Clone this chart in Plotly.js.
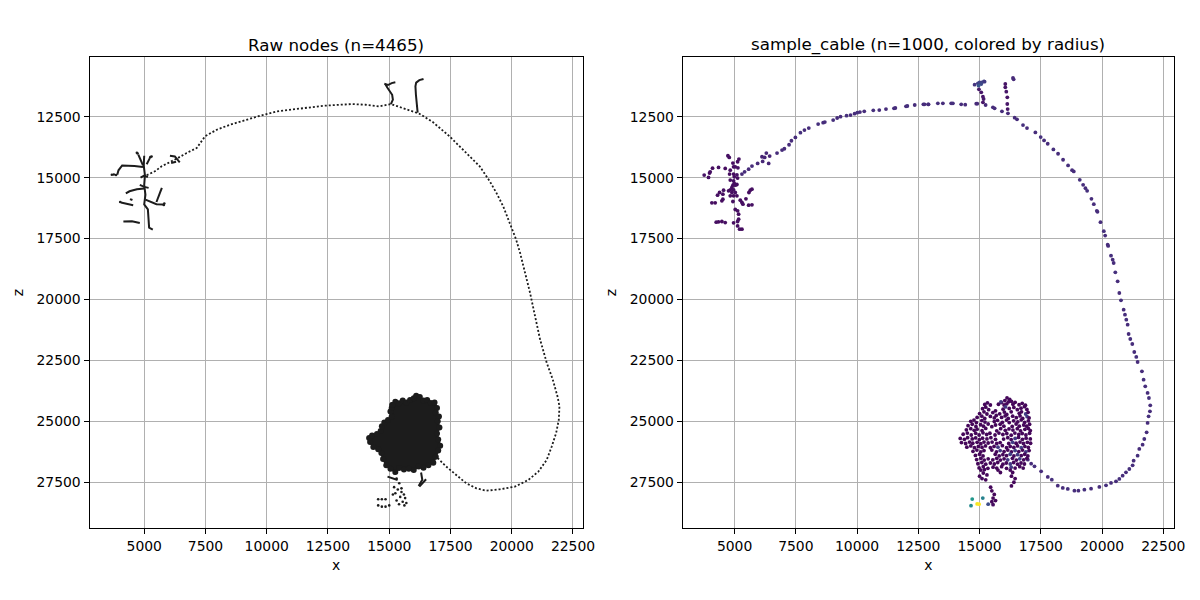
<!DOCTYPE html>
<html>
<head>
<meta charset="utf-8">
<script src="https://cdn.plot.ly/plotly-3.0.1.min.js"></script>
<style>
  html, body { margin: 0; padding: 0; background: #fff; }
  #chart { width: 1200px; height: 600px; }
</style>
</head>
<body>
<div id="chart"></div>
<script>
// ---------- Raw skeleton nodes (x, z) ----------
// Long axon running from the small arbor to the dense terminal arbor
const axonX = [5100, 5437, 5710, 6051, 6400, 6733, 7142, 7483, 7960, 8506, 9051, 9733, 10416, 11234, 12325, 13007,
  13495, 14042, 14589, 15068, 15547, 16231, 16778, 17462, 18146, 18693, 19104, 19377, 19651, 19924, 20171, 20335,
  20540, 20745, 20950, 21156, 21429, 21675, 21867, 21949, 21922, 21812, 21634, 21429, 21087, 20677, 20129, 19514,
  18967, 18556, 18146, 17736, 17325, 16983];
const axonZ = [14900, 14741, 14536, 14372, 14180, 13989, 13785, 13306, 13033, 12828, 12651, 12459, 12282, 12173, 12050, 12009,
  11981, 12009, 12077, 11981, 12145, 12378, 12719, 13306, 13989, 14536, 15151, 15629, 16175, 16858, 17513, 18063,
  18887, 19711, 20673, 21635, 22597, 23284, 23971, 24383, 24933, 25482, 26032, 26581, 27062, 27406, 27680, 27790,
  27845, 27749, 27543, 27200, 26856, 26513];

// Densely sampled branches (nodes merge into solid strokes)
const branchX = [
  [5000, 4980, 5030, 5000, 5050, 5000, 5150, 5180, 5200, 5350],
  [4950, 4600, 4100, 3950, 3900],
  [4760, 4850, 4950],
  [5230, 5100],
  [5000, 4700, 4400, 4250],
  [4050, 4300, 4550],
  [4420, 4520],
  [5050, 5300, 5500, 5780],
  [5500, 5650, 5720],
  [4150, 4500, 4820],
  [4820, 5000, 5180],
  [4850, 5000, 5150],
  [6050, 6250, 6450],
  [6100, 6300],
  [15068, 15150, 15120, 15020, 14920, 14850],
  [14800, 14950, 15100, 15250],
  [16160, 16120, 16090, 16070, 16100, 16230, 16400],
  [14931, 15150, 15342],
  [16300, 16350, 16200],
  [16231, 16504]
];
const branchZ = [
  [14100, 14500, 14900, 15300, 15700, 16100, 16300, 16700, 17050, 17130],
  [14560, 14520, 14500, 14700, 14880],
  [14060, 14250, 14500],
  [14200, 14450],
  [15450, 15480, 15560, 15650],
  [16020, 16080, 16130],
  [15880, 15920],
  [15900, 16000, 16090, 16100],
  [16000, 15600, 15420],
  [16800, 16790, 16860],
  [15300, 15380, 15420],
  [15000, 14920, 14980],
  [14100, 14130, 14370],
  [14400, 14350],
  [11981, 11800, 11600, 11420, 11300, 11180],
  [11150, 11200, 11120, 11090],
  [12330, 12000, 11600, 11250, 11100, 11000, 10950],
  [27268, 27330, 27406],
  [27100, 27400, 27650],
  [27680, 27378]
];
// Isolated raw nodes at the tips of the small arbor
const tipX = [3680, 3760, 3850, 4730, 4700, 5250, 5300, 4020, 5800, 5820];
const tipZ = [14880, 14870, 14890, 14010, 13980, 14160, 14130, 16000, 16120, 16060];

// Outline of the dense terminal arbor
const arborOutlineX = [15130, 15250, 15400, 15550, 15700, 15850, 16000, 16100, 16250, 16400, 16550, 16700, 16850,
  16950, 16900, 17030, 16980, 17050, 16950, 17000, 17080, 17000, 16900, 16800, 16600, 16400, 16200, 16000, 15800,
  15600, 15400, 15250, 15050, 14880, 14750, 14680, 14550, 14350, 14220, 14180, 14300, 14500, 14650, 14700, 14800,
  14950, 15100, 15050, 15100, 15130];
const arborOutlineZ = [24330, 24200, 24260, 24150, 24230, 24120, 24050, 23950, 24000, 24150, 24120, 24250, 24230,
  24450, 24650, 24800, 25000, 25250, 25500, 25750, 26000, 26200, 26450, 26700, 26800, 26900, 26850, 27000, 26950,
  26980, 26920, 27080, 26950, 26800, 26550, 26300, 26150, 26050, 25850, 25680, 25580, 25520, 25400, 25200, 25050,
  24950, 24800, 24600, 24450, 24330];

// Scattered nodes below the terminal arbor
const tailX = [15205, 15300, 15410, 15200, 15350, 15500, 15600, 15450, 15650, 15550, 15700, 15400, 15300, 15150, 15250,
  14550, 14700, 14850, 14550, 14700, 14850, 15000, 15500, 15620];
const tailZ = [27131, 27350, 27543, 27700, 27800, 27900, 28000, 28100, 28150, 28300, 28350, 28400, 28250, 28000, 27950,
  28200, 28200, 28200, 28450, 28500, 28500, 28450, 27750, 28450];

// ---------- sample_cable: [x, z, radius] ----------
const sampleArbor = [
  [4727, 14103, 45], [4782, 14171, 45], [4932, 14404, 40], [5177, 14240, 45], [5123, 14349, 40], [4959, 14555, 40],
  [5136, 14596, 45], [4823, 14692, 40], [5027, 14555, 45], [4618, 14623, 40], [4345, 14582, 45], [4100, 14610, 40],
  [4004, 14760, 45], [3977, 14815, 40], [3759, 14897, 50], [3936, 14993, 45], [4795, 14856, 40], [4959, 14856, 40],
  [5095, 14883, 45], [4986, 14966, 40], [5123, 15020, 40], [4959, 15130, 45], [4823, 15102, 40], [4932, 15308, 40],
  [5027, 15308, 45], [5095, 15281, 40], [4891, 15404, 40], [4823, 15500, 40], [4959, 15500, 45], [4754, 15541, 40],
  [4891, 15610, 40], [5027, 15610, 45], [4959, 15747, 40], [4823, 15747, 40], [5095, 15747, 40], [4550, 15514, 45],
  [4386, 15610, 40], [4523, 15678, 40], [4304, 15719, 45], [4523, 15884, 40], [4482, 15952, 40], [4932, 15979, 45],
  [5232, 15925, 40], [5300, 16021, 40], [5341, 16089, 45], [5464, 15870, 40], [5573, 16130, 40], [5709, 16116, 45],
  [5586, 15610, 40], [5709, 15473, 45], [5641, 15514, 40], [4072, 16034, 45], [4209, 16034, 40], [5027, 16308, 40],
  [5123, 16363, 45], [5164, 16500, 40], [5164, 16706, 40], [5123, 16801, 45], [4959, 16856, 40], [5123, 16980, 40],
  [5205, 17117, 45], [5300, 17117, 40], [4250, 16829, 45], [4345, 16815, 40], [4482, 16801, 40], [4618, 16843, 45],
  [4986, 15240, 40]
];
const samplePath = [
  [5300, 14856, 90], [5409, 14760, 95], [5573, 14651, 90], [5709, 14527, 95], [5941, 14418, 90], [6118, 14144, 80],
  [6228, 14171, 80], [6296, 13993, 85], [6432, 14116, 80], [6391, 14418, 80], [6146, 14335, 85], [6732, 13993, 95],
  [6937, 13870, 95], [7032, 13815, 90], [7223, 13650, 95], [7319, 13486, 95], [7482, 13349, 95], [7687, 13157, 100],
  [7851, 13048, 95], [8028, 12965, 95], [8410, 12801, 100], [8614, 12746, 95], [8683, 12719, 95], [9024, 12637, 100],
  [9187, 12554, 95], [9324, 12500, 95], [9569, 12458, 100], [9733, 12431, 95], [9897, 12376, 95], [10006, 12335, 100],
  [10115, 12308, 95], [10292, 12280, 95], [10661, 12239, 100], [10906, 12226, 95], [11179, 12185, 95], [11506, 12157, 100],
  [11561, 12143, 95], [11997, 12075, 95], [12052, 12061, 100], [12352, 12020, 95], [12706, 11993, 95], [12897, 11993, 100],
  [12751, 11993, 95], [12915, 11993, 95], [13296, 11952, 100], [13501, 11952, 95], [13841, 11952, 95], [13910, 11952, 100],
  [14250, 11993, 95], [14414, 12006, 95], [14864, 11965, 90], [14905, 11965, 90],
  [15245, 12020, 90], [15545, 12116, 95], [15613, 12157, 95], [15913, 12280, 95], [16158, 12363, 90], [16431, 12541, 95],
  [16527, 12609, 95], [16772, 12842, 100], [16935, 12965, 95], [17276, 13144, 95], [17494, 13335, 100], [17631, 13472, 95],
  [17780, 13609, 95], [18012, 13842, 100], [18203, 14020, 95], [18407, 14267, 95], [18612, 14500, 100], [18775, 14692, 95],
  [18844, 14746, 95], [19089, 15089, 100], [19225, 15294, 95], [19321, 15431, 95], [19389, 15541, 100], [19566, 15870, 95],
  [19662, 16089, 95], [19784, 16363, 100], [19811, 16404, 95], [19934, 16829, 95], [20071, 17199, 100], [20125, 17377, 95],
  [20248, 17802, 95], [20228, 17750, 95], [20364, 18202, 100], [20432, 18366, 95], [20472, 18502, 95], [20540, 18885, 100],
  [20635, 19255, 95], [20703, 19733, 95], [20771, 20033, 100], [20880, 20417, 95], [20934, 20622, 95], [20988, 20827, 100],
  [21043, 21033, 95], [21083, 21416, 95], [21151, 21621, 100], [21233, 21826, 95], [21314, 22154, 95], [21396, 22359, 100],
  [21450, 22565, 95], [21626, 22947, 95], [21694, 23289, 100], [21762, 23563, 95], [21857, 23836, 95], [21912, 24042, 100],
  [21966, 24343, 95], [21953, 24589, 95], [21898, 24794, 100], [21857, 25067, 95], [21817, 25450, 95], [21722, 25724, 100],
  [21654, 25957, 95], [21518, 26134, 95], [21450, 26408, 100], [21287, 26613, 95], [21246, 26804, 95], [21111, 26955, 100],
  [20975, 27092, 95], [20839, 27228, 95], [20703, 27365, 100], [20567, 27461, 95], [20364, 27529, 95], [20160, 27625, 100],
  [19888, 27693, 95], [19549, 27762, 95], [19277, 27803, 100], [19033, 27844, 95], [18870, 27844, 95], [18599, 27775, 100],
  [18395, 27734, 95], [18191, 27639, 95], [17947, 27393, 100], [17784, 27283, 95], [17512, 27050, 95], [17241, 26845, 100],
  [17105, 26736, 95], [16969, 26572, 95]
];
const sampleBranches = [
  [14796, 11184, 110], [14932, 11130, 130], [15000, 11089, 140], [15095, 11089, 130], [15177, 11047, 140],
  [15204, 11061, 120], [15068, 11157, 150], [14959, 11226, 180], [14973, 11376, 60], [15068, 11500, 55],
  [15136, 11678, 55], [15164, 11774, 60], [15136, 11911, 55],
  [16363, 10910, 90], [16390, 10965, 90], [16049, 11157, 50], [16049, 11294, 50], [16090, 11472, 55],
  [16131, 11705, 50], [16131, 11979, 55], [16145, 12185, 50]
];
const sampleTerminal = [
  [16120, 24040, 30], [16230, 24100, 30], [16180, 24200, 35], [16030, 24150, 30], [15890, 24230, 30], [16300, 24180, 30],
  [15210, 24310, 30], [15320, 24240, 35], [15440, 24330, 30], [15770, 24300, 30], [15870, 24200, 120],
  [16000, 24330, 30], [16110, 24280, 30], [16360, 24300, 35], [16450, 24220, 30], [16610, 24320, 30], [16740, 24260, 30],
  [16870, 24340, 30],
  [15120, 24480, 30], [15250, 24420, 30], [15370, 24520, 35], [15960, 24500, 30], [16060, 24410, 120],
  [16210, 24470, 30], [16400, 24430, 30], [16540, 24520, 35], [16690, 24460, 30], [16830, 24400, 30], [16930, 24510, 30],
  [15000, 24680, 30], [15180, 24610, 30], [15300, 24700, 30], [15540, 24640, 35], [15650, 24570, 30], [15820, 24690, 30],
  [16010, 24620, 30], [16110, 24720, 30], [16290, 24610, 30], [16620, 24670, 30], [16710, 24610, 30],
  [16880, 24700, 130], [16980, 24630, 30],
  [14900, 24840, 30], [15090, 24790, 35], [15210, 24880, 30], [15440, 24800, 30], [15600, 24860, 30], [15680, 24760, 30],
  [15900, 24840, 30], [16040, 24780, 30], [16170, 24880, 35], [16350, 24790, 30], [16500, 24850, 30], [16650, 24780, 30],
  [16760, 24880, 30], [16940, 24810, 120], [17020, 24860, 30],
  [14640, 25000, 30], [14770, 24950, 30], [14870, 25050, 30], [15090, 24970, 30], [15220, 25030, 35],
  [15600, 25010, 30], [15730, 24960, 30], [15930, 25040, 30], [16100, 24950, 30], [16210, 25050, 30], [16390, 24980, 30],
  [16560, 25020, 35], [16700, 24940, 30], [16840, 25040, 30], [16990, 24980, 30],
  [14530, 25180, 30], [14700, 25120, 30], [14850, 25210, 30], [15040, 25140, 30], [15160, 25200, 30], [15350, 25110, 35],
  [15500, 25220, 30], [15650, 25150, 30], [15840, 25120, 30], [15990, 25200, 30], [16330, 25210, 30],
  [16490, 25110, 30], [16620, 25200, 30], [16800, 25150, 35], [16920, 25200, 30], [17040, 25120, 30],
  [14460, 25350, 30], [14640, 25300, 30], [14780, 25370, 30], [14900, 25320, 35], [15100, 25380, 30], [15250, 25290, 30],
  [15700, 25390, 30], [15860, 25300, 30], [16050, 25370, 30], [16200, 25310, 30],
  [16360, 25360, 35], [16540, 25300, 30], [16670, 25390, 30], [16850, 25330, 30], [16990, 25290, 30], [17070, 25380, 30],
  [14330, 25530, 30], [14500, 25480, 30], [14660, 25560, 30], [14840, 25490, 30], [14980, 25560, 30], [15140, 25470, 35],
  [15290, 25540, 30], [15420, 25490, 30], [15630, 25560, 30], [15790, 25480, 30], [15950, 25540, 30], [16110, 25500, 30],
  [16290, 25570, 30], [16440, 25480, 35], [16600, 25540, 30], [16740, 25500, 30], [16890, 25560, 30], [17040, 25490, 30],
  [14210, 25700, 30], [14380, 25740, 30], [14510, 25670, 30], [14700, 25720, 30], [14840, 25680, 30], [14990, 25750, 30],
  [15120, 25690, 30], [15300, 25720, 35], [15460, 25670, 30], [15650, 25740, 30], [15980, 25730, 30],
  [16150, 25670, 30], [16290, 25750, 30], [16450, 25700, 120], [16590, 25660, 35], [16750, 25740, 30], [16900, 25690, 30],
  [17070, 25720, 30],
  [14260, 25870, 30], [14430, 25910, 30], [14590, 25850, 30], [14720, 25900, 30], [14900, 25860, 30], [15050, 25920, 30],
  [15180, 25850, 30], [15350, 25890, 30], [15510, 25850, 35], [15700, 25910, 30], [15840, 25870, 30],
  [16190, 25910, 30], [16350, 25860, 130], [16490, 25900, 30], [16650, 25850, 30], [16790, 25910, 35], [16950, 25860, 30],
  [17080, 25900, 30],
  [14480, 26060, 30], [14640, 26010, 30], [14790, 26080, 30], [14950, 26030, 30], [15100, 26070, 30], [15240, 26010, 30],
  [15440, 26080, 30], [15590, 26030, 30], [15750, 26060, 120], [15930, 26000, 30], [16100, 26080, 30], [16250, 26030, 30],
  [16400, 26070, 30], [16550, 26010, 30], [16700, 26080, 130], [16850, 26030, 30], [16990, 26070, 30],
  [14730, 26230, 30], [14890, 26180, 30], [15050, 26250, 30], [15180, 26200, 30], [15500, 26180, 30],
  [15690, 26250, 30], [15840, 26200, 120], [16000, 26240, 30], [16150, 26180, 30], [16300, 26250, 30], [16450, 26200, 130],
  [16600, 26240, 30], [16750, 26180, 30], [16890, 26250, 120], [17020, 26200, 30],
  [14830, 26400, 30], [15000, 26350, 30], [15140, 26420, 30], [15640, 26350, 30],
  [15800, 26420, 30], [15950, 26370, 30], [16100, 26410, 30], [16250, 26350, 130], [16400, 26420, 30], [16550, 26370, 120],
  [16700, 26410, 30], [16840, 26350, 30], [16970, 26420, 30],
  [14880, 26570, 30], [15050, 26520, 30], [15190, 26590, 30], [15350, 26540, 30], [15540, 26580, 30], [15700, 26520, 30],
  [15850, 26590, 30], [16000, 26540, 30], [16150, 26580, 120], [16340, 26520, 30], [16500, 26590, 30], [16640, 26540, 130],
  [16800, 26580, 30], [16930, 26520, 30],
  [14930, 26740, 30], [15090, 26690, 30], [15250, 26760, 30], [15440, 26710, 30], [15600, 26750, 30], [15740, 26690, 30],
  [15950, 26760, 30], [16090, 26710, 30], [16250, 26750, 120], [16390, 26690, 30], [16550, 26760, 30], [16690, 26710, 30],
  [16830, 26750, 30],
  [14980, 26910, 30], [15150, 26860, 30], [15340, 26930, 30], [15550, 26880, 30], [15700, 26920, 30], [15900, 26860, 30],
  [16100, 26930, 30], [16290, 26880, 120], [16450, 26920, 30], [16640, 26860, 30], [16780, 26920, 30]
];
const sampleTail = [
  [15050, 27000, 30], [15200, 26980, 30], [15150, 27120, 30], [15300, 27200, 30], [15000, 27250, 30], [15100, 27350, 35],
  [15250, 27400, 30], [15750, 27000, 30], [15850, 27100, 30], [16250, 27000, 30], [16350, 27100, 30], [16300, 27250, 30],
  [16450, 27350, 35], [16400, 27500, 30], [16300, 27650, 30], [15450, 27700, 30], [15500, 27850, 30], [15600, 28000, 30],
  [15550, 28150, 30], [15650, 28250, 30], [15500, 28300, 30], [15350, 28400, 160], [15550, 28420, 40],
  [14700, 28190, 330], [14650, 28460, 300], [15130, 28150, 280], [14900, 28390, 600], [14980, 28400, 610]
];

const TITLE_LEFT = 'Raw nodes (n=4465)';
const TITLE_RIGHT = 'sample_cable (n=1000, colored by radius)';

// ---------- helpers ----------
function joinSegments(xs, zs) {
  const x = [], z = [];
  xs.forEach((seg, i) => {
    x.push(...seg, null);
    z.push(...zs[i], null);
  });
  return { x, z };
}

const FONT = 'DejaVu Sans, Liberation Sans, sans-serif';
const INK = '#1c1c1c';
const branches = joinSegments(branchX, branchZ);
const sampleAll = [].concat(sampleArbor, samplePath, sampleBranches, sampleTerminal, sampleTail);

const traces = [
  { // axon: closely spaced raw nodes
    type: 'scatter', mode: 'lines', x: axonX, y: axonZ, xaxis: 'x', yaxis: 'y',
    line: { color: INK, width: 1.8, dash: '2px,2px' }, hoverinfo: 'skip', showlegend: false
  },
  { // dense branches
    type: 'scatter', mode: 'lines', x: branches.x, y: branches.z, xaxis: 'x', yaxis: 'y',
    line: { color: INK, width: 2 }, connectgaps: false, hoverinfo: 'skip', showlegend: false
  },
  { // isolated tip nodes
    type: 'scatter', mode: 'markers', x: tipX, y: tipZ, xaxis: 'x', yaxis: 'y',
    marker: { color: INK, size: 2.6 }, hoverinfo: 'skip', showlegend: false
  },
  { // terminal arbor mass
    type: 'scatter', mode: 'lines+markers', x: arborOutlineX, y: arborOutlineZ, xaxis: 'x', yaxis: 'y',
    fill: 'toself', fillcolor: INK, line: { color: INK, width: 2 },
    marker: { color: INK, size: 6 }, hoverinfo: 'skip', showlegend: false
  },
  { // scattered nodes below the arbor
    type: 'scatter', mode: 'markers', x: tailX, y: tailZ, xaxis: 'x', yaxis: 'y',
    marker: { color: INK, size: 2.6 }, hoverinfo: 'skip', showlegend: false
  },
  { // resampled cable coloured by radius
    type: 'scatter', mode: 'markers',
    x: sampleAll.map(p => p[0]), y: sampleAll.map(p => p[1]), xaxis: 'x2', yaxis: 'y2',
    marker: {
      size: 3.8, color: sampleAll.map(p => p[2]), colorscale: 'Viridis', cmin: 20, cmax: 610,
      showscale: false, line: { width: 0 }
    },
    showlegend: false
  }
];

function axisStyle(extra) {
  return Object.assign({
    showgrid: true, gridcolor: '#b0b0b0', gridwidth: 1,
    showline: true, mirror: true, linecolor: '#000', linewidth: 1,
    ticks: 'outside', ticklen: 5, tickwidth: 1, tickcolor: '#000',
    tickfont: { family: FONT, size: 13.9, color: '#000' },
    tickformat: 'd', separatethousands: false,
    zeroline: false, dtick: 2500, tick0: 0, autorange: false, fixedrange: true
  }, extra);
}

const yDomain = [1 - 528 / 600, 1 - 57 / 600];
const layout = {
  width: 1200, height: 600,
  margin: { l: 0, r: 0, t: 0, b: 0 },
  paper_bgcolor: '#fff', plot_bgcolor: '#fff',
  font: { family: FONT, color: '#000' },
  xaxis: axisStyle({ domain: [89.5 / 1200, 582.5 / 1200], range: [2767, 22889], anchor: 'y',
    title: { text: 'x', font: { family: FONT, size: 13.9 }, standoff: 7 } }),
  yaxis: axisStyle({ domain: yDomain, range: [29377, 10050], anchor: 'x',
    title: { text: 'z', font: { family: FONT, size: 13.9 }, standoff: 9 } }),
  xaxis2: axisStyle({ domain: [682.7 / 1200, 1174.2 / 1200], range: [2882, 22943], anchor: 'y2',
    title: { text: 'x', font: { family: FONT, size: 13.9 }, standoff: 7 } }),
  yaxis2: axisStyle({ domain: yDomain, range: [29377, 10050], anchor: 'x2',
    title: { text: 'z', font: { family: FONT, size: 13.9 }, standoff: 9 } }),
  annotations: [
    { text: TITLE_LEFT, xref: 'paper', yref: 'paper', x: 336 / 1200, y: 1 - 45 / 600,
      xanchor: 'center', yanchor: 'middle', showarrow: false, font: { family: FONT, size: 16.7, color: '#000' } },
    { text: TITLE_RIGHT, xref: 'paper', yref: 'paper', x: 928 / 1200, y: 1 - 45 / 600,
      xanchor: 'center', yanchor: 'middle', showarrow: false, font: { family: FONT, size: 16.7, color: '#000' } }
  ]
};

Plotly.newPlot('chart', traces, layout, { staticPlot: true, displayModeBar: false });
</script>
</body>
</html>
